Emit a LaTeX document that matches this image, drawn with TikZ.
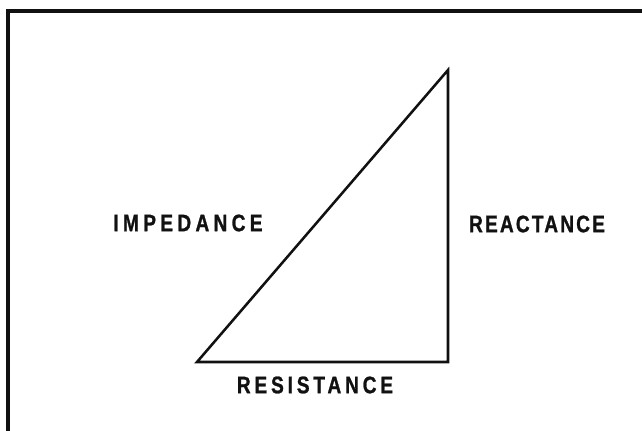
\documentclass[tikz,border=0pt]{standalone}
\usepackage{fontspec}
\newfontfamily\lettering[FakeStretch=0.8,BoldFeatures={FakeBold=1}]{Liberation Sans}
\usetikzlibrary{positioning}
\definecolor{ink}{HTML}{111111}

\begin{document}
\begin{tikzpicture}[x=0.025cm,y=-0.025cm,
  frame/.style={draw=ink,line width=2.5pt,line cap=rect},
  side/.style={draw=ink,line width=1.8pt,line join=miter},
  label/.style={text=ink,inner sep=0pt,font=\lettering\bfseries\fontsize{17}{19}\selectfont}
]
\useasboundingbox (0,0) rectangle (642,430);
\draw[frame] (8,432) -- (8,11) -- (644,11);
\coordinate (base) at (197,362);
\coordinate (corner) at (448,362);
\coordinate (apex) at (448,70);
\draw[side] (base) -- (corner) -- (apex) -- cycle;
\node[label] (imp) at (188,223) {\addfontfeatures{LetterSpace=18}IMPEDANCE};
\node[label] (rea) at (537,224) {\addfontfeatures{LetterSpace=9}REACTANCE};
\node[label] (res) at (315,385) {\addfontfeatures{LetterSpace=16}RESISTANCE};
\end{tikzpicture}
\end{document}
